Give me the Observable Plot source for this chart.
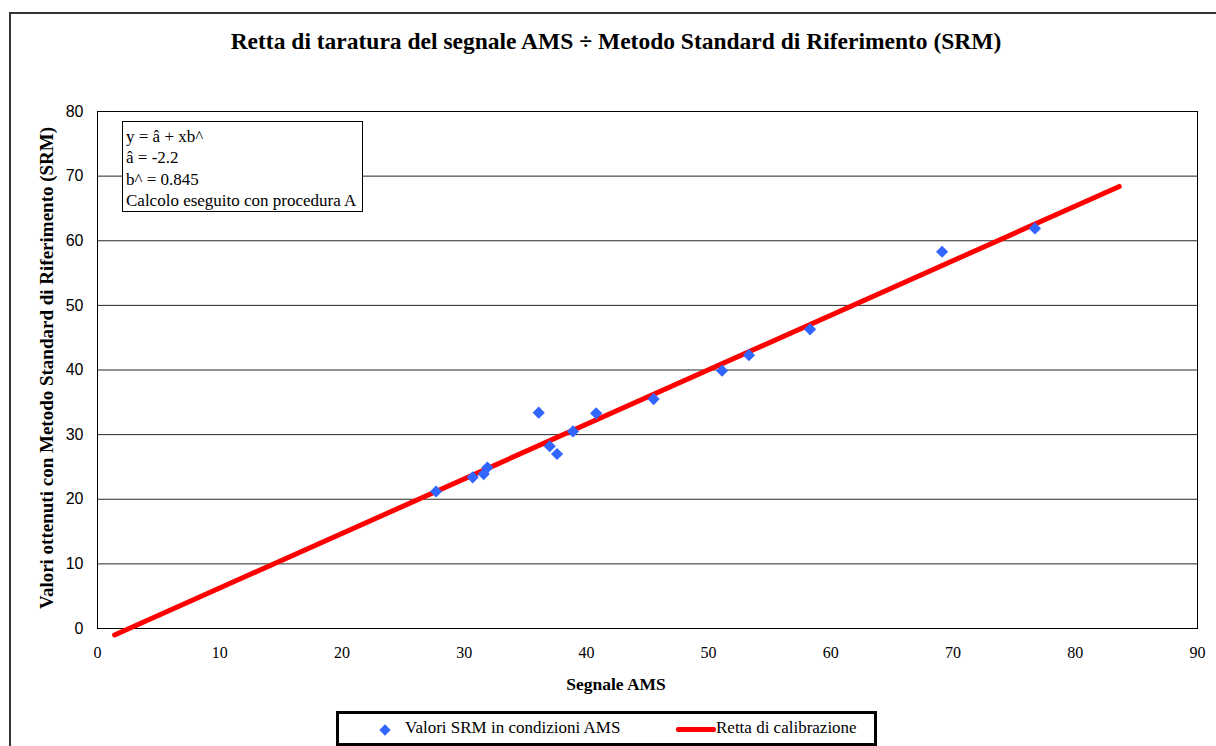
<!DOCTYPE html>
<html>
<head>
<meta charset="utf-8">
<script src="https://cdn.jsdelivr.net/npm/d3@7"></script>
<script src="https://cdn.jsdelivr.net/npm/@observablehq/plot@0.6"></script>
<style>
  html, body { margin: 0; padding: 0; background: #fff; }
  #wrap { position: relative; width: 1216px; height: 746px; overflow: hidden; background: #fff; }
  #wrap svg { position: absolute; left: 0; top: 0; }
  .serif { font-family: "Liberation Serif", "Times New Roman", serif; color: #000; }
  #outer { position: absolute; left: 9px; top: 12px; width: 1300px; height: 900px; border: 2px solid #333; box-sizing: border-box; }
  #title { position: absolute; left: 0; width: 1232px; top: 28px; text-align: center; font-size: 23.5px; line-height: 27px; font-weight: bold; white-space: nowrap; }
  #ylab { position: absolute; left: 47px; top: 368px; transform: translate(-50%, -50%) rotate(-90deg); white-space: nowrap; font-size: 19px; font-weight: bold; }
  #xlab { position: absolute; left: 616px; top: 684px; transform: translate(-50%, -50%); white-space: nowrap; font-size: 17.5px; font-weight: bold; }
  #note { position: absolute; left: 122px; top: 121px; width: 241px; height: 91px; box-sizing: border-box; border: 1px solid #000; background: #fff; padding: 4px 0 0 3px; font-size: 17px; line-height: 21.4px; white-space: nowrap; }
  #legend { position: absolute; left: 336px; top: 711px; width: 541px; height: 35px; box-sizing: border-box; border: 3px solid #000; background: #fff; font-size: 17px; }
  #legend .item { position: absolute; top: 4px; white-space: nowrap; }
  #legend .dia { position: absolute; left: 42px; top: 12px; width: 8px; height: 8px; background: #3366ff; transform: rotate(45deg); }
  #legend .ln { position: absolute; left: 337px; top: 13px; width: 40px; height: 5px; background: #ff0000; border-radius: 2px; }
</style>
</head>
<body>
<div id="wrap">
  <div id="outer"></div>
</div>
<script>
// Data
const amsX = [27.7, 30.7, 31.6, 31.9, 36.1, 37.0, 37.6, 38.9, 40.8, 45.5, 51.1, 53.3, 58.3, 69.1, 76.7];
const srmY = [21.2, 23.4, 23.9, 24.9, 33.4, 28.2, 27.0, 30.5, 33.3, 35.5, 39.9, 42.3, 46.3, 58.3, 61.9];
const lineX = [1.4, 83.6];
const lineY = [-1.0, 68.4];
const xTicks = [0, 10, 20, 30, 40, 50, 60, 70, 80, 90];
const yTicks = [0, 10, 20, 30, 40, 50, 60, 70, 80];
const titleText = "Retta di taratura del segnale AMS ÷ Metodo Standard di Riferimento (SRM)";
const xLabel = "Segnale AMS";
const yLabel = "Valori ottenuti con Metodo Standard di Riferimento (SRM)";
const noteLines = ["y = â + xb^", "â = -2.2", "b^ = 0.845", "Calcolo eseguito con procedura A"];
const seriesNames = ["Valori SRM in condizioni AMS", "Retta di calibrazione"];

const points = amsX.map((x, i) => ({x, y: srmY[i]}));
const lineData = lineX.map((x, i) => ({x, y: lineY[i]}));

const chart = Plot.plot({
  width: 1216,
  height: 746,
  marginLeft: 97,
  marginRight: 19,
  marginTop: 111,
  marginBottom: 118,
  style: {background: "transparent", overflow: "visible", color: "#000"},
  x: {domain: [0, 90]},
  y: {domain: [0, 80]},
  marks: [
    Plot.gridY(yTicks, {stroke: "#111", strokeOpacity: 0.9, strokeWidth: 1}),
    Plot.frame({stroke: "#000", strokeWidth: 1}),
    Plot.axisY(yTicks, {tickSize: 0, tickPadding: 14, fontSize: 16, fontFamily: "Liberation Sans, Arial, sans-serif", label: null}),
    Plot.axisX(xTicks, {tickSize: 0, tickPadding: 18.5, fontSize: 16, fontFamily: "Liberation Serif, Times New Roman, serif", label: null}),
    Plot.line(lineData, {x: "x", y: "y", stroke: "#ff0000", strokeWidth: 5}),
    Plot.dot(points, {x: "x", y: "y", symbol: "diamond2", r: 5.5, fill: "#3366ff", stroke: "none"})
  ]
});

const wrap = document.getElementById("wrap");
wrap.appendChild(chart);

function addDiv(id, html) {
  const d = document.createElement("div");
  d.id = id;
  d.className = "serif";
  d.innerHTML = html;
  wrap.appendChild(d);
  return d;
}
addDiv("title").textContent = titleText;
addDiv("ylab").textContent = yLabel;
addDiv("xlab").textContent = xLabel;
const note = addDiv("note", "");
noteLines.forEach(t => { const l = document.createElement("div"); l.textContent = t; note.appendChild(l); });
const legend = addDiv("legend", "");
legend.innerHTML = '<div class="dia"></div><div class="item" style="left:66px"></div><div class="ln"></div><div class="item" style="left:377px"></div>';
const items = legend.querySelectorAll(".item");
items[0].textContent = seriesNames[0];
items[1].textContent = seriesNames[1];
</script>
</body>
</html>
